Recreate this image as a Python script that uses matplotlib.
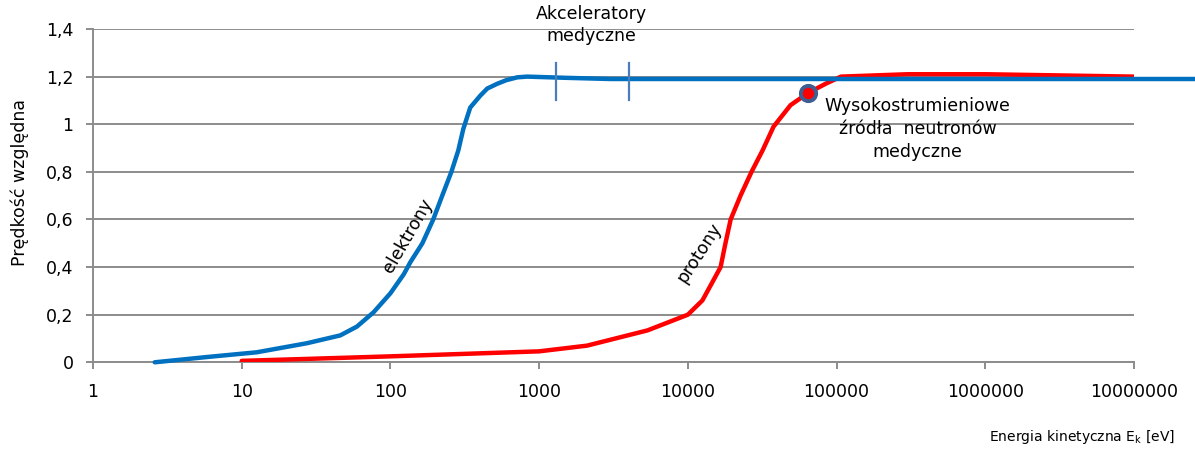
import matplotlib
matplotlib.use("Agg")
import matplotlib.pyplot as plt
from matplotlib.ticker import FixedLocator, FuncFormatter

plt.rcParams['font.family'] = ['DejaVu Sans']

# ---- data ----
el_energy = [2.6, 5.8, 12.6, 27.4, 46, 59.5, 77, 100, 123, 136, 164, 194, 223, 257, 286,
             309, 344, 402, 448, 523, 601, 713, 830, 1500, 3000, 1e5, 2.6e7]
el_speed = [0.0, 0.022, 0.042, 0.08, 0.113, 0.15, 0.21, 0.29, 0.37, 0.42, 0.5, 0.6, 0.7,
            0.8, 0.89, 0.98, 1.07, 1.12, 1.15, 1.17, 1.185, 1.197, 1.2, 1.195, 1.19,
            1.19, 1.19]

pr_energy = [10, 30, 100, 300, 1000, 2100, 5350, 10000, 12530, 14870, 16600, 17900,
             19400, 22600, 26800, 31800, 37700, 49000, 63800, 84400, 107000, 3e5, 1e6, 1e7]
pr_speed = [0.006, 0.015, 0.025, 0.035, 0.046, 0.07, 0.134, 0.2, 0.26, 0.345, 0.4, 0.5,
            0.6, 0.7, 0.8, 0.89, 0.99, 1.08, 1.13, 1.17, 1.2, 1.21, 1.21, 1.2]

accel_marks = [1306, 4046]          # "Akceleratory medyczne" range markers
accel_mark_span = [1.10, 1.256]
source_point = (63800, 1.13)        # high-flux neutron sources

x_ticks = [1, 10, 100, 1000, 10000, 100000, 1000000, 10000000]
y_ticks = [0, 0.2, 0.4, 0.6, 0.8, 1.0, 1.2, 1.4]

BLUE = '#0070c0'
RED = '#ff0000'
GRID = '#8c8c8c'
FS = 12.5

fig = plt.figure(figsize=(11.95, 4.5), dpi=100)
ax = fig.add_axes([93/1195, 1-362.3/450, (1134-93)/1195, (362.3-29)/450])

ax.set_xscale('log')
ax.set_xlim(1, 1e7)
ax.set_ylim(0, 1.4)

ax.xaxis.set_major_locator(FixedLocator(x_ticks))
ax.xaxis.set_minor_locator(FixedLocator([]))
ax.xaxis.set_major_formatter(FuncFormatter(lambda v, p: f"{int(round(v))}"))
ax.yaxis.set_major_locator(FixedLocator(y_ticks))
def yfmt(v, p):
    s = f"{v:.1f}".rstrip('0').rstrip('.')
    return s.replace('.', ',')
ax.yaxis.set_major_formatter(FuncFormatter(yfmt))

ax.grid(axis='y', color=GRID, lw=1.4)
ax.set_axisbelow(True)
for s in ['top', 'right']:
    ax.spines[s].set_visible(False)
for s in ['left', 'bottom']:
    ax.spines[s].set_color(GRID)
    ax.spines[s].set_linewidth(1.4)
ax.tick_params(axis='both', colors=GRID, width=1.4, length=5, labelcolor='black',
               labelsize=FS)
ax.tick_params(axis='x', pad=10)
ax.tick_params(axis='y', pad=9)

ax.plot(pr_energy, pr_speed, color=RED, lw=3.2, solid_capstyle='round',
        solid_joinstyle='round', zorder=3)
ax.plot(el_energy, el_speed, color=BLUE, lw=3.2, solid_capstyle='round',
        solid_joinstyle='round', zorder=4, clip_on=False)

for m in accel_marks:
    ax.plot([m, m], accel_mark_span, color='#4a7ebb', lw=1.6, zorder=5)

ax.plot([source_point[0]], [source_point[1]], marker='o', ms=11, mfc=RED,
        mec='#3f5f92', mew=2.8, zorder=6, linestyle='none')

ax.text(2245, 1.416, "Akceleratory\nmedyczne", ha='center', va='center',
        fontsize=FS, linespacing=1.25)
ax.text(351000, 1.115, "Wysokostrumieniowe\nźródła  neutronów\nmedyczne", ha='center',
        va='top', fontsize=FS, linespacing=1.35)
ax.text(130, 0.53, "elektrony", rotation=60, ha='center', va='center', fontsize=FS,
        rotation_mode='anchor')
ax.text(11970, 0.46, "protony", rotation=57, ha='center', va='center', fontsize=FS,
        rotation_mode='anchor')

fig.text(20/1195, 1-182/450, "Prędkość względna", rotation=90, ha='center', va='center',
         fontsize=FS)
fig.text(1175/1195, 1-437/450, "Energia kinetyczna E$_\\mathregular{k}$ [eV]", ha='right',
         va='center', fontsize=10)

fig.savefig("out.png", dpi=100)
